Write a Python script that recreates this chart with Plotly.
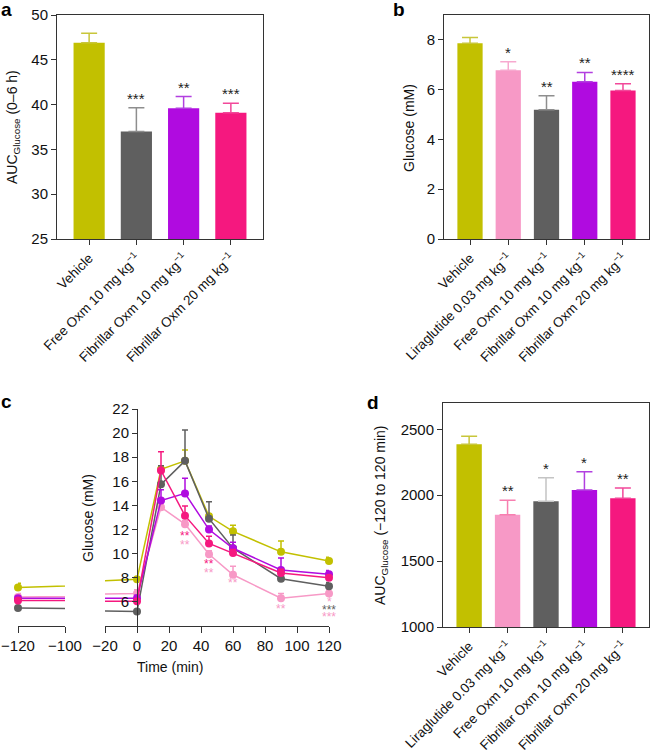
import plotly.graph_objects as go

W, H = 650, 755
FONT = "Liberation Sans, Arial, Helvetica, sans-serif"
AX = "#333333"

# ---------------- colours per group ----------------
C_VEH = "#C2C000"
C_LIRA = "#F799C6"
C_FREE = "#5F5F5F"
C_FIB10 = "#B00BE0"
C_FIB20 = "#F5187F"

# ---------------- panel a ----------------
a_labels = ["Vehicle", "Free Oxm 10 mg kg<sup>−1</sup>",
            "Fibrillar Oxm 10 mg kg<sup>−1</sup>", "Fibrillar Oxm 20 mg kg<sup>−1</sup>"]
a_values = [46.9, 37.0, 39.6, 39.1]
a_errors = [1.05, 2.65, 1.3, 1.05]
a_stars = ["", "***", "**", "***"]
a_colors = [C_VEH, C_FREE, C_FIB10, C_FIB20]
a_err_colors = ["#C8C63A", "#8E8E8E", "#B23FE0", "#F2489A"]

# ---------------- panel b ----------------
b_labels = ["Vehicle", "Liraglutide 0.03 mg kg<sup>−1</sup>", "Free Oxm 10 mg kg<sup>−1</sup>",
            "Fibrillar Oxm 10 mg kg<sup>−1</sup>", "Fibrillar Oxm 20 mg kg<sup>−1</sup>"]
b_values = [7.86, 6.78, 5.19, 6.32, 5.97]
b_errors = [0.24, 0.34, 0.57, 0.37, 0.27]
b_stars = ["", "*", "**", "**", "****"]

# ---------------- panel d ----------------
d_labels = b_labels
d_values = [2387, 1852, 1955, 2040, 1977]
d_errors = [60, 110, 178, 138, 78]
d_stars = ["", "**", "*", "*", "**"]

bde_colors = [C_VEH, C_LIRA, C_FREE, C_FIB10, C_FIB20]
b_err_colors = ["#C8C63A", "#F7A9CF", "#8E8E8E", "#B23FE0", "#F2489A"]
d_err_colors = ["#C8C63A", "#F77FB0", "#C4C4C4", "#B23FE0", "#F2489A"]

# ---------------- panel c (time course) ----------------
times = [-120, 0, 15, 30, 45, 60, 90, 120]
c_vehicle = [7.2, 7.87, 17.0, 17.7, 13.1, 11.85, 10.15, 9.4]
c_vehicle_err = [0.35, 0.1, 0.3, 0.9, 0.2, 0.5, 0.9, 0.3]
c_lira = [6.4, 6.7, 13.85, 12.45, 9.95, 8.25, 6.3, 6.7]
c_lira_err = [0.3, 0.3, 0.4, 0.3, 0.3, 0.7, 0.4, 0.3]
c_free = [5.5, 5.2, 15.75, 17.7, 12.9, 10.45, 7.92, 7.3]
c_free_err = [0.1, 0.1, 1.55, 2.55, 1.4, 1.1, 0.3, 0.3]
c_fib10 = [6.3, 6.3, 14.4, 15.0, 12.0, 10.45, 8.65, 8.3]
c_fib10_err = [0.2, 0.25, 0.9, 1.25, 0.3, 0.5, 1.0, 0.3]
c_fib20 = [6.12, 6.05, 16.9, 13.15, 10.85, 10.05, 8.4, 8.0]
c_fib20_err = [0.2, 0.2, 1.55, 0.8, 0.6, 0.3, 0.3, 0.2]

# significance labels in panel c: (time, text, group index, glucose level of label)
c_star_time = [30, 30, 45, 45, 60, 90, 120, 120, 120]
c_star_text = ["**", "**", "**", "**", "**", "**", "*", "***", "***"]
c_star_group = [4, 1, 4, 1, 1, 1, 1, 2, 1]
c_star_level = [11.45, 10.7, 9.13, 8.38, 7.55, 5.4, 5.97, 5.31, 4.73]

c_series = [c_vehicle, c_lira, c_free, c_fib10, c_fib20]
c_errs = [c_vehicle_err, c_lira_err, c_free_err, c_fib10_err, c_fib20_err]
c_colors = [C_VEH, C_LIRA, C_FREE, C_FIB10, C_FIB20]
c_star_colors = [C_VEH, C_LIRA, "#5F5F5F", C_FIB10, C_FIB20]


def px_x(p):
    return p / W


def px_y(p):
    return 1 - p / H


fig = go.Figure()


def add_bars(labels, values, errors, colors, err_colors, xa, ya):
    for i in range(len(labels)):
        fig.add_trace(go.Bar(
            x=[labels[i]], y=[values[i]], xaxis=xa, yaxis=ya,
            marker=dict(color=colors[i], line=dict(width=0)),
            width=0.66, showlegend=False,
            error_y=dict(type="data", symmetric=False, array=[errors[i]],
                         arrayminus=[0], color=err_colors[i], thickness=1.5, width=8),
        ))


add_bars(a_labels, a_values, a_errors, a_colors, a_err_colors, "x", "y")
add_bars(b_labels, b_values, b_errors, bde_colors, b_err_colors, "x2", "y2")
add_bars(d_labels, d_values, d_errors, bde_colors, d_err_colors, "x5", "y5")

# panel c traces
for vals, errs, col in zip(c_series, c_errs, c_colors):
    fig.add_trace(go.Scatter(x=times, y=vals, mode="lines", xaxis="x3", yaxis="y3",
                             line=dict(color=col, width=1.5), showlegend=False))
    idx = [k for k, t in enumerate(times) if t >= 0]
    fig.add_trace(go.Scatter(
        x=[times[k] for k in idx], y=[vals[k] for k in idx], mode="markers",
        xaxis="x3", yaxis="y3", cliponaxis=False, showlegend=False,
        marker=dict(color=col, size=8),
        error_y=dict(type="data", symmetric=False, array=[errs[k] for k in idx],
                     arrayminus=[0] * len(idx), color=col, thickness=1.5, width=3)))
    fig.add_trace(go.Scatter(x=times, y=vals, mode="lines", xaxis="x4", yaxis="y3",
                             line=dict(color=col, width=1.5), showlegend=False))
    idl = [k for k, t in enumerate(times) if t < -100]
    fig.add_trace(go.Scatter(
        x=[times[k] for k in idl], y=[vals[k] for k in idl], mode="markers",
        xaxis="x4", yaxis="y3", cliponaxis=False, showlegend=False,
        marker=dict(color=col, size=8),
        error_y=dict(type="data", symmetric=False, array=[errs[k] for k in idl],
                     arrayminus=[0] * len(idl), color=col, thickness=1.5, width=3)))

annotations = []
for labels, values, errors, stars, xa, ya in [
    (a_labels, a_values, a_errors, a_stars, "x", "y"),
    (b_labels, b_values, b_errors, b_stars, "x2", "y2"),
    (d_labels, d_values, d_errors, d_stars, "x5", "y5"),
]:
    for lab, v, e, s in zip(labels, values, errors, stars):
        if s:
            annotations.append(dict(x=lab, y=v + e, xref=xa, yref=ya, text=s,
                                    showarrow=False, yanchor="bottom", yshift=-1,
                                    font=dict(size=15, color="#222222", family=FONT)))

for t, s, g, lv in zip(c_star_time, c_star_text, c_star_group, c_star_level):
    annotations.append(dict(x=t, y=lv, xref="x3", yref="y3", text=s, showarrow=False,
                            yanchor="middle",
                            font=dict(size=12, color=c_star_colors[g], family=FONT)))

for letter, x, y in [("a", 6, 9), ("b", 399, 9), ("c", 6, 401), ("d", 373, 402)]:
    annotations.append(dict(x=px_x(x), y=px_y(y), xref="paper", yref="paper", text=f"<b>{letter}</b>",
                            showarrow=False, xanchor="center", yanchor="middle",
                            font=dict(size=19, color="#000000", family=FONT)))

for txt, x, y in [
    ("AUC<sub>Glucose</sub> (0–6 h)", 13, 127),
    ("Glucose (mM)", 409, 128),
    ("Glucose (mM)", 88, 518),
    ("AUC<sub>Glucose</sub> (−120 to 120 min)", 381, 515),
]:
    annotations.append(dict(x=px_x(x), y=px_y(y), xref="paper", yref="paper", text=txt,
                            textangle=-90, showarrow=False, xanchor="center", yanchor="middle",
                            font=dict(size=14, color="#111111", family=FONT)))
annotations.append(dict(x=px_x(170), y=px_y(667), xref="paper", yref="paper", text="Time (min)",
                        showarrow=False, xanchor="center", yanchor="middle",
                        font=dict(size=14, color="#111111", family=FONT)))

tickfont = dict(size=15, color="#111111", family=FONT)
cattickfont = dict(size=13.5, color="#111111", family=FONT)


def bar_xaxis(domain, anchor, n):
    return dict(domain=domain, anchor=anchor, range=[-0.68, n - 1 + 0.68], type="category",
                showline=True, linecolor=AX, linewidth=1, mirror=True, automargin=False,
                ticks="outside", ticklen=5, tickcolor=AX, tickangle=-45,
                tickfont=cattickfont, showgrid=False, zeroline=False)


def bar_yaxis(domain, anchor, rng, dtick):
    return dict(domain=domain, anchor=anchor, range=rng, dtick=dtick, tick0=rng[0],
                showline=True, linecolor=AX, linewidth=1, mirror=True, automargin=False,
                ticks="outside", ticklen=5, tickcolor=AX, tickfont=tickfont,
                showgrid=False, zeroline=False)


xa_dom = [px_x(57), px_x(263)]
xb_dom = [px_x(444), px_x(649)]
xd_dom = [px_x(443), px_x(649)]
yab_dom = [px_y(239), px_y(15)]
yd_dom = [px_y(627), px_y(403)]
yc_dom = [px_y(626), px_y(409)]
xc_dom = [px_x(105), px_x(329)]
xl_dom = [px_x(18), px_x(65)]
c_range = [-20, 120]
yc_pos = xc_dom[0] + (0 - c_range[0]) / (c_range[1] - c_range[0]) * (xc_dom[1] - xc_dom[0])

c_ticks = [-20, 0, 20, 40, 60, 80, 100, 120]
fig.update_layout(
    width=W, height=H, margin=dict(l=0, r=0, t=0, b=0, autoexpand=False),
    paper_bgcolor="white", plot_bgcolor="white",
    font=dict(family=FONT, size=14, color="#111111"),
    showlegend=False, bargap=0.34,
    xaxis=bar_xaxis(xa_dom, "y", len(a_labels)),
    yaxis=bar_yaxis(yab_dom, "x", [25, 50], 5),
    xaxis2=bar_xaxis(xb_dom, "y2", len(b_labels)),
    yaxis2=bar_yaxis(yab_dom, "x2", [0, 9], 2),
    xaxis5=bar_xaxis(xd_dom, "y5", len(d_labels)),
    yaxis5=bar_yaxis(yd_dom, "x5", [1000, 2700], 500),
    xaxis3=dict(domain=xc_dom, anchor="y3", range=c_range, tickvals=c_ticks,
                ticktext=[str(t).replace("-", "−") for t in c_ticks], automargin=False,
                showline=True, linecolor=AX, linewidth=1, ticks="outside", ticklen=6,
                tickcolor=AX, tickfont=tickfont, showgrid=False, zeroline=False),
    xaxis4=dict(domain=xl_dom, anchor="y3", range=[-120, -100], tickvals=[-120, -100],
                ticktext=["−120", "−100"], automargin=False,
                showline=True, linecolor=AX, linewidth=1, ticks="outside", ticklen=6,
                tickcolor=AX, tickfont=tickfont, showgrid=False, zeroline=False),
    yaxis3=dict(domain=yc_dom, anchor="free", position=yc_pos, range=[4, 22],
                tickvals=[6, 8, 10, 12, 14, 16, 18, 20, 22], automargin=False,
                showline=True, linecolor=AX, linewidth=1, ticks="outside", ticklen=5,
                tickcolor=AX, tickfont=tickfont, showgrid=False, zeroline=False),
    annotations=annotations,
)

fig.write_html("out.html", config={"displayModeBar": False},
               post_script="document.body.style.margin='0px';document.body.style.overflow='hidden';")
